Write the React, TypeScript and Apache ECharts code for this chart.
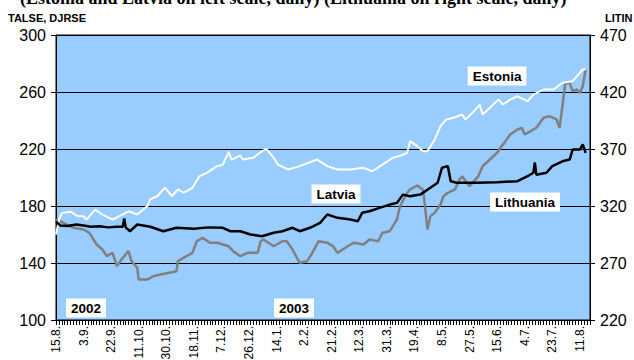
import React, { useEffect, useRef } from "react";
import * as echarts from "echarts";

// x axis: one category per calendar day, 15.8.2002 .. 18.8.2003; a label every 19 days
const tickLabels = ["15.8.", "3.9.", "22.9.", "11.10.", "30.10.", "18.11.", "7.12.", "26.12.", "14.1.", "2.2.", "21.2.", "12.3.", "31.3.", "19.4.", "8.5.", "27.5.", "15.6.", "4.7.", "23.7.", "11.8."];
const DAY_COUNT = 369;
const LABEL_STEP = 19;

// Estonia (TALSE), left scale
const estoniaDays = [0, 2, 4, 10, 15, 19, 21, 27, 32, 39, 50, 56, 63, 65, 70, 75, 80, 84, 88, 94, 99, 104, 111, 115, 119, 121, 127, 129, 136, 142, 145, 150, 153, 160, 168, 180, 187, 194, 203, 212, 218, 225, 232, 239, 242, 244, 249, 253, 256, 261, 265, 269, 274, 280, 282, 287, 292, 294, 299, 305, 308, 313, 318, 325, 329, 336, 343, 349, 356, 359, 363, 365];
const estoniaValues = [160, 170, 175, 176, 172.8, 172.8, 170.5, 177.5, 174, 170.5, 176.3, 174, 180, 184.6, 187, 192.8, 187, 191.6, 189.3, 192.8, 201, 203.3, 208, 209, 218, 212.6, 215.4, 212.6, 213.8, 218.5, 220.1, 213.8, 209, 205.6, 208, 212.6, 208, 205.6, 205.6, 206.8, 204.4, 209, 213.8, 216, 217.3, 225.5, 222, 218.5, 218.5, 226.7, 236, 240.7, 241.9, 244.2, 240.7, 245.4, 251.2, 244.2, 248.9, 254.7, 251.2, 254.7, 257, 253.5, 258.2, 261.8, 261.8, 266.5, 267.6, 271.1, 275.8, 276];

// Latvia (DJRSE), left scale
const latviaDays = [0, 3, 8, 14, 19, 24, 30, 36, 42, 46, 47, 48, 51, 56, 65, 74, 83, 95, 105, 115, 120, 127, 134, 142, 150, 156, 163, 168, 175, 182, 187, 194, 203, 208, 211, 216, 223, 230, 235, 239, 244, 251, 258, 263, 266, 270, 272, 276, 290, 304, 318, 325, 329, 330, 331, 338, 342, 349, 354, 356, 361, 363, 365];
const latviaValues = [169, 166.3, 166, 167, 166.3, 165.4, 165.8, 165, 165.4, 165.4, 171.2, 165, 162.3, 167, 165.4, 162.3, 164.7, 164, 165, 164.7, 162.3, 162.3, 160, 158.8, 161.2, 162.3, 164.7, 162.3, 164.7, 168.2, 174, 171.7, 170.5, 169.3, 175.2, 176.3, 178.7, 181, 182.2, 188, 186.9, 188, 192.8, 196.3, 206.8, 208, 197.4, 196.3, 196.3, 196.7, 197.4, 200.9, 203.3, 210.5, 202, 203.3, 208, 211.4, 212.6, 219.6, 219.6, 223.2, 217.3];

// Lithuania (LITIN), right scale
const lithuaniaDays = [0, 5, 12, 19, 23, 28, 32, 35, 39, 42, 45, 50, 52, 56, 57, 63, 67, 72, 83, 84, 90, 94, 97, 101, 106, 111, 119, 122, 127, 132, 139, 141, 143, 150, 156, 159, 163, 166, 168, 173, 176, 181, 187, 191, 194, 201, 205, 212, 216, 222, 225, 230, 235, 237, 242, 244, 249, 253, 254, 256, 258, 261, 265, 267, 270, 275, 278, 280, 283, 285, 289, 291, 294, 299, 304, 307, 309, 313, 318, 321, 323, 327, 331, 336, 340, 345, 347, 349, 351, 354, 356, 359, 361, 363, 365];
const lithuaniaValues = [308.2, 305.3, 300.9, 299.4, 296.5, 286.2, 281.8, 276, 278.9, 267.2, 273, 280.4, 271.6, 265.8, 255.5, 255.5, 258.4, 259.9, 262.8, 271.6, 276, 278.9, 289.1, 292.1, 287.7, 287.7, 284.7, 280.4, 276, 278.9, 278.9, 289.1, 290.6, 284.7, 289.1, 289.1, 281.8, 274.6, 270.2, 271.6, 277.5, 289.1, 287.7, 284.7, 278.9, 284.7, 287.7, 286.2, 290.6, 289.1, 296.5, 297.9, 308.2, 319.8, 331.6, 334.5, 338, 334, 322.8, 299.4, 311, 314, 321.3, 328.6, 331.6, 334.5, 343.2, 346.1, 340.4, 337.4, 343.2, 346.1, 354.9, 360.8, 366.7, 372.5, 375.4, 382.7, 387.1, 388.6, 382.7, 385.6, 388.6, 397.4, 398.8, 395.9, 388.6, 407.5, 428, 428, 420.7, 422.2, 419.3, 425.1, 439.7];

const leftAxisName = "TALSE, DJRSE";
const rightAxisName = "LITIN";
const titleText = "(Estonia and Latvia on left scale, daily) (Lithuania on right scale, daily)";

const pairs = (days: number[], vals: number[]) => days.map((d, i) => [d, vals[i]]);

const FONT = '"Liberation Sans", Arial, sans-serif';

export default function App() {
  const ref = useRef<HTMLDivElement>(null);
  useEffect(() => {
    const chart = echarts.init(ref.current!, null, { renderer: "svg" });
    const categories = Array.from({ length: DAY_COUNT }, (_, i) => String(i));
    const boxLabel = (text: string, x: number, y: number, size: number) => ({
      type: "text",
      x,
      y,
      z: 100,
      style: {
        text,
        align: "center",
        verticalAlign: "middle",
        fontSize: size,
        fontWeight: "bold",
        fontFamily: FONT,
        fill: "#000",
        backgroundColor: "#fff",
        padding: [3, 5, 2, 5],
      },
    });
    chart.setOption({
      animation: false,
      backgroundColor: "#fff",
      grid: {
        left: 56,
        right: 44,
        top: 35,
        bottom: 40,
        containLabel: false,
        outerBoundsMode: "none",
        show: true,
        backgroundColor: "#99CCFF",
        borderColor: "#000",
        borderWidth: 1,
      },
      xAxis: {
        type: "category",
        data: categories,
        boundaryGap: false,
        axisLine: { show: true, lineStyle: { color: "#000", width: 1 } },
        axisTick: { show: true, interval: 1, length: 5, lineStyle: { color: "#000" } },
        axisLabel: {
          interval: LABEL_STEP - 1,
          rotate: 90,
          margin: 6,
          fontSize: 12,
          fontFamily: FONT,
          color: "#000",
          hideOverlap: false,
          formatter: (_v: string, idx: number) => (idx % LABEL_STEP === 0 ? tickLabels[idx / LABEL_STEP] ?? "" : ""),
        },
        splitLine: { show: false },
      },
      yAxis: [
        {
          type: "value",
          min: 100,
          max: 300,
          interval: 40,
          position: "left",
          axisLine: { show: true, lineStyle: { color: "#000" } },
          axisTick: { show: true, length: 5, lineStyle: { color: "#000" } },
          axisLabel: { fontSize: 16, fontFamily: FONT, color: "#000", margin: 10 },
          splitLine: { show: true, lineStyle: { color: "#000", width: 1 } },
        },
        {
          type: "value",
          min: 220,
          max: 470,
          interval: 50,
          position: "right",
          axisLine: { show: true, lineStyle: { color: "#000" } },
          axisTick: { show: true, length: 5, lineStyle: { color: "#000" } },
          axisLabel: { fontSize: 16, fontFamily: FONT, color: "#000", margin: 10 },
          splitLine: { show: false },
        },
      ],
      series: [
        {
          name: "Lithuania",
          type: "line",
          yAxisIndex: 1,
          data: pairs(lithuaniaDays, lithuaniaValues),
          showSymbol: false,
          lineStyle: { color: "#808080", width: 2.5 },
          z: 2,
        },
        {
          name: "Estonia",
          type: "line",
          yAxisIndex: 0,
          data: pairs(estoniaDays, estoniaValues),
          showSymbol: false,
          lineStyle: { color: "#ffffff", width: 2 },
          z: 3,
        },
        {
          name: "Latvia",
          type: "line",
          yAxisIndex: 0,
          data: pairs(latviaDays, latviaValues),
          showSymbol: false,
          lineStyle: { color: "#000000", width: 2.5 },
          z: 4,
        },
      ],
      graphic: [
        {
          type: "text",
          x: 20,
          y: 7,
          style: {
            text: titleText,
            verticalAlign: "bottom",
            fontSize: 18,
            fontWeight: "bold",
            fontFamily: '"Liberation Serif", "Times New Roman", serif',
            fill: "#000",
          },
        },
        {
          type: "text",
          x: 8,
          y: 18,
          style: { text: leftAxisName, verticalAlign: "middle", fontSize: 11, fontWeight: "bold", fontFamily: FONT, fill: "#000" },
        },
        {
          type: "text",
          x: 605,
          y: 18,
          style: { text: rightAxisName, verticalAlign: "middle", fontSize: 11, fontWeight: "bold", fontFamily: FONT, fill: "#000" },
        },
        boxLabel("Estonia", 497, 76, 13.5),
        boxLabel("Latvia", 336, 194, 13.5),
        boxLabel("Lithuania", 525, 202, 13.5),
        boxLabel("2002", 86, 308, 13.5),
        boxLabel("2003", 294, 308, 13.5),
      ],
    });
    return () => chart.dispose();
  }, []);
  return <div ref={ref} style={{ position: "fixed", left: 0, top: 0, width: 634, height: 360 }} />;
}
